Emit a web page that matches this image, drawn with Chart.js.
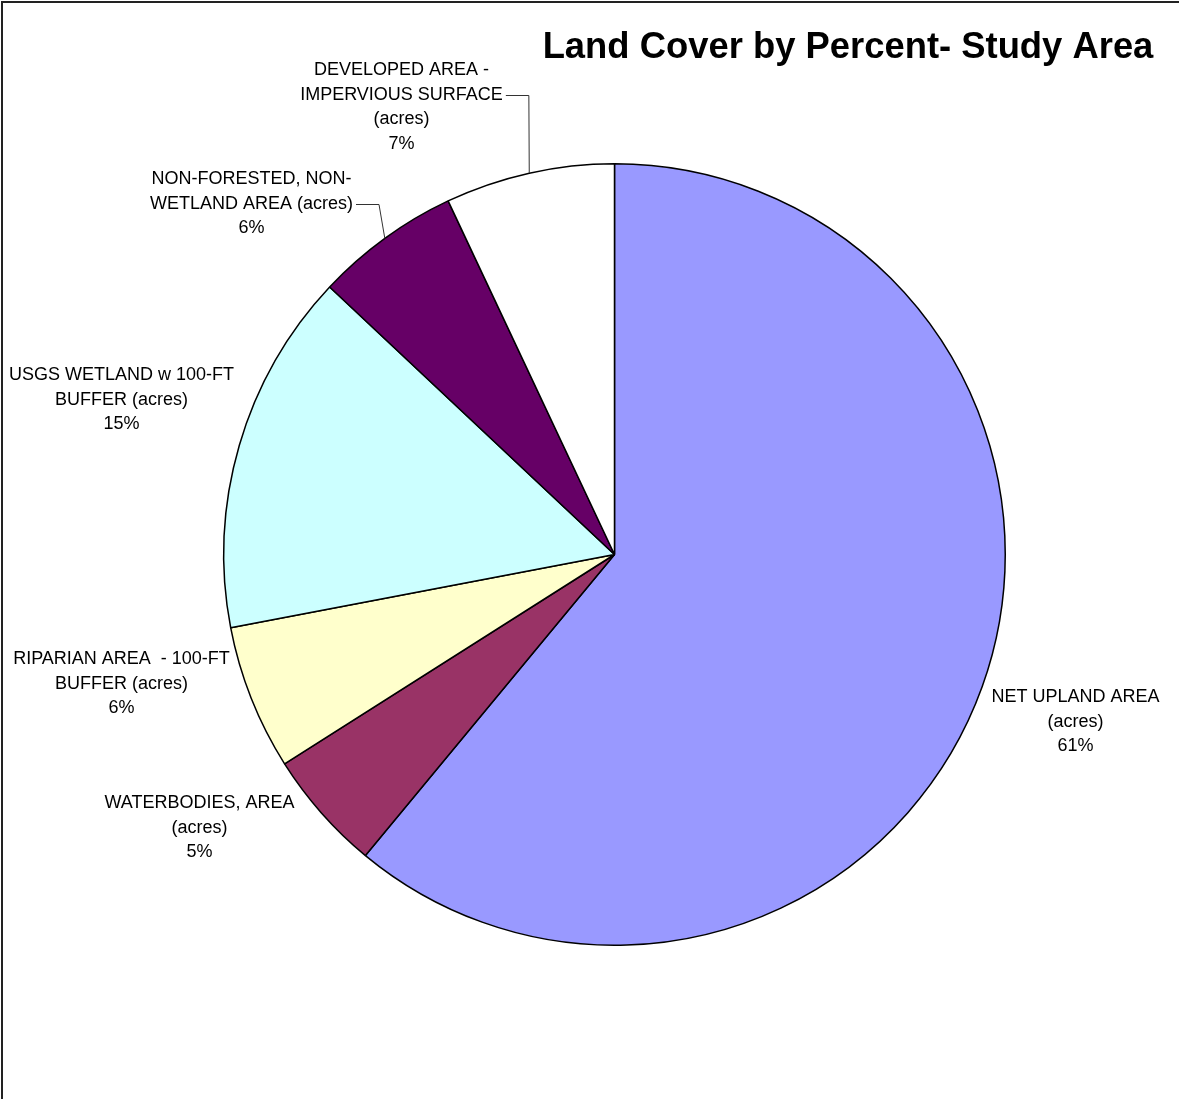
<!DOCTYPE html>
<html>
<head>
<meta charset="utf-8">
<title>Land Cover by Percent- Study Area</title>
<script src="https://cdn.jsdelivr.net/npm/chart.js@4.4.1/dist/chart.umd.min.js"></script>
<style>
    html, body { margin: 0; padding: 0; background: #fff; }
    #wrap { position: relative; width: 1179px; height: 1099px; }
    canvas { display: block; }
</style>
</head>
<body>
<div id="wrap">
    <canvas id="landChart" width="1179" height="1099"></canvas>
</div>
<script>
// --- data ---
const categories = [
    ['NET UPLAND AREA', '(acres)'],
    ['WATERBODIES, AREA', '(acres)'],
    ['RIPARIAN AREA  - 100-FT', 'BUFFER (acres)'],
    ['USGS WETLAND w 100-FT', 'BUFFER (acres)'],
    ['NON-FORESTED, NON-', 'WETLAND AREA (acres)'],
    ['DEVELOPED AREA -', 'IMPERVIOUS SURFACE', '(acres)']
];
const percents = [61, 5, 6, 15, 6, 7];
const sliceColors = ['#9999FF', '#993366', '#FFFFCC', '#CCFFFF', '#660066', '#FFFFFF'];
const chartTitle = 'Land Cover by Percent- Study Area';

// where each label block sits, measured from the pie centre (first line centre)
const labelOffsets = [
    [461, 143],
    [-415, 249],
    [-493, 105],
    [-493, -179],
    [-363, -375],
    [-213, -484]
];
// labels that get a leader line back to their slice (line index it leaves from)
const leaderFrom = { 4: 1, 5: 1 };

const FONT = '"Liberation Sans", Arial, sans-serif';
const LINE_H = 24.5;

const labelPlugin = {
    id: 'sliceLabels',
    beforeDraw(chart) {
        const ctx = chart.ctx;
        ctx.save();
        ctx.fillStyle = '#fff';
        ctx.fillRect(0, 0, chart.width, chart.height);
        // frame on the top and left edges
        ctx.fillStyle = '#222';
        ctx.fillRect(0, 0, chart.width, 3);
        ctx.fillRect(0, 0, 3, chart.height);
        ctx.fillStyle = '#fff';
        ctx.fillRect(0, 0, chart.width, 1);
        ctx.fillRect(0, 0, 1, chart.height);
        ctx.restore();
    },
    afterDatasetsDraw(chart) {
        const ctx = chart.ctx;
        const arcs = chart.getDatasetMeta(0).data;
        ctx.save();
        ctx.fillStyle = '#000';
        ctx.textAlign = 'center';
        ctx.textBaseline = 'middle';
        ctx.font = '18px ' + FONT;

        arcs.forEach((arc, i) => {
            const lines = categories[i].concat([percents[i] + '%']);
            const lx = arc.x + labelOffsets[i][0];
            const ly = arc.y + labelOffsets[i][1];
            lines.forEach((t, k) => ctx.fillText(t, lx, ly + k * LINE_H));

            if (leaderFrom[i] !== undefined) {
                const k = leaderFrom[i];
                const w = ctx.measureText(lines[k]).width;
                const sx = lx + w / 2 + 3;
                const sy = ly + k * LINE_H;
                const mid = (arc.startAngle + arc.endAngle) / 2;
                const ex = arc.x + Math.cos(mid) * arc.outerRadius;
                const ey = arc.y + Math.sin(mid) * arc.outerRadius;
                ctx.beginPath();
                ctx.strokeStyle = '#333';
                ctx.lineWidth = 1;
                ctx.moveTo(sx, sy + 0.5);
                ctx.lineTo(sx + 23, sy + 0.5);
                ctx.lineTo(ex, ey);
                ctx.stroke();
            }
        });

        // title
        ctx.font = 'bold 36.4px ' + FONT;
        ctx.textAlign = 'center';
        ctx.fillText(chartTitle, 848, 48);
        ctx.restore();
    }
};

const ctx = document.getElementById('landChart').getContext('2d');
new Chart(ctx, {
    type: 'pie',
    data: {
        labels: categories.map(c => c.join(' ')),
        datasets: [{
            data: percents,
            backgroundColor: sliceColors,
            borderColor: '#000',
            borderWidth: 1.5
        }]
    },
    options: {
        responsive: false,
        animation: false,
        events: [],
        layout: {
            padding: { left: 223, right: 173, top: 163, bottom: 153 }
        },
        plugins: {
            legend: { display: false },
            tooltip: { enabled: false },
            title: { display: false }
        }
    },
    plugins: [labelPlugin]
});
</script>
</body>
</html>
